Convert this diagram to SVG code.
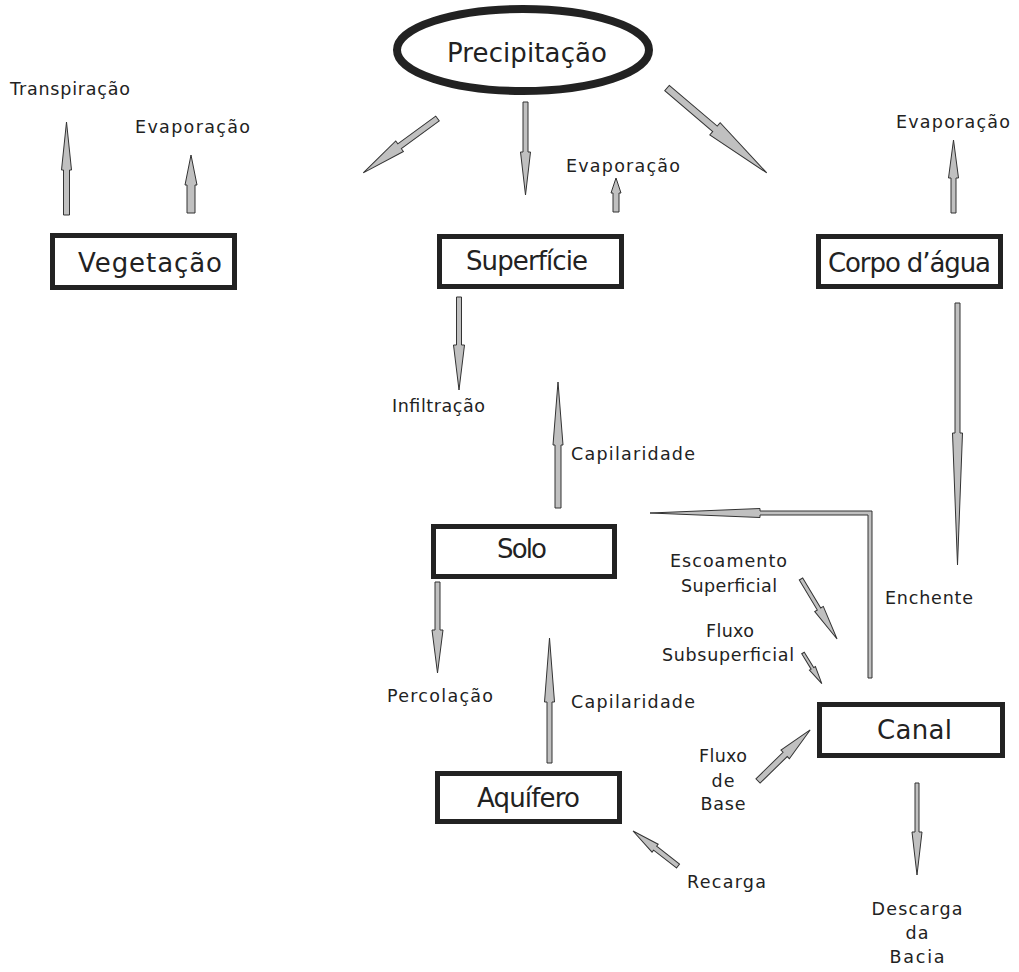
<svg xmlns="http://www.w3.org/2000/svg" width="1019" height="972" viewBox="0 0 1019 972">
<style>
.box{fill:#fff;stroke:#222;stroke-width:5}
.ell{fill:#fff;stroke:#222;stroke-width:8}
.arr{fill:#c0c0c0;stroke:#333;stroke-width:1;stroke-linejoin:miter}
text{font-family:"DejaVu Sans","Liberation Sans",Arial,sans-serif;fill:#222;text-anchor:middle}
.big{font-size:26px}
.sm{font-size:17.5px}
</style>
<rect width="1019" height="972" fill="#fff"/>
<g id="precipitacao"><ellipse class="ell" cx="523" cy="50" rx="126" ry="41"/><text class="big" x="527" y="62" textLength="160">Precipitação</text></g>
<g id="vegetacao"><rect class="box" x="52.5" y="235.5" width="182" height="52"/><text class="big" x="150" y="272" textLength="144">Vegetação</text></g>
<g id="superficie"><rect class="box" x="439.5" y="236.5" width="182" height="50"/><text class="big" x="527" y="270" textLength="122">Superfície</text></g>
<g id="corpo"><rect class="box" x="818.5" y="236.5" width="182" height="50"/><text class="big" x="909.5" y="272" textLength="163">Corpo d’água</text></g>
<g id="solo"><rect class="box" x="433.5" y="526.5" width="181" height="50"/><text class="big" x="522" y="558" textLength="50">Solo</text></g>
<g id="aquifero"><rect class="box" x="437.5" y="773.5" width="182" height="48"/><text class="big" x="528.5" y="807" textLength="103">Aquífero</text></g>
<g id="canal"><rect class="box" x="819.5" y="704.5" width="183" height="51"/><text class="big" x="914.5" y="739" textLength="75">Canal</text></g>
<g id="labels">
<text class="sm" x="70" y="95" textLength="120">Transpiração</text>
<text class="sm" x="192.5" y="133" textLength="115">Evaporação</text>
<text class="sm" x="623" y="172" textLength="114">Evaporação</text>
<text class="sm" x="953" y="128" textLength="114">Evaporação</text>
<text class="sm" x="438.5" y="412" textLength="93">Infiltração</text>
<text class="sm" x="633" y="460" textLength="124">Capilaridade</text>
<text class="sm" x="728.5" y="567" textLength="117">Escoamento</text>
<text class="sm" x="729" y="592" textLength="96">Superficial</text>
<text class="sm" x="730" y="637" textLength="48">Fluxo</text>
<text class="sm" x="728" y="661" textLength="132">Subsuperficial</text>
<text class="sm" x="929" y="604" textLength="88">Enchente</text>
<text class="sm" x="440" y="702" textLength="106">Percolação</text>
<text class="sm" x="633" y="708" textLength="124">Capilaridade</text>
<text class="sm" x="723" y="762" textLength="48">Fluxo</text>
<text class="sm" x="723" y="787" textLength="23">de</text>
<text class="sm" x="723" y="810" textLength="45">Base</text>
<text class="sm" x="726.5" y="888" textLength="79">Recarga</text>
<text class="sm" x="917" y="915" textLength="91">Descarga</text>
<text class="sm" x="917" y="939" textLength="23">da</text>
<text class="sm" x="917" y="963" textLength="55">Bacia</text>
</g>
<g id="connectors">
<polygon class="arr" points="63.5,215 63.5,170 61.5,170 66.5,122 71.5,170 69.5,170 69.5,215"/>
<polygon class="arr" points="187,213 187,185 185,185 191,155 197,185 195,185 195,213"/>
<polygon class="arr" points="523,102 528,102 528,152 530.5,152 525.5,195 520.5,152 523,152"/>
<polygon class="arr" points="613,212 613,193 611,193 616,178 621,193 619,193 619,212"/>
<polygon class="arr" points="951,213 951,178 948.5,178 953.5,140 958.5,178 956,178 956,213"/>
<polygon class="arr" points="456.5,297 461.5,297 461.5,345 464.5,345 459,390 453.5,345 456.5,345"/>
<polygon class="arr" points="555,508 555,445 553,445 558,382 563,445 561,445 561,508"/>
<polygon class="arr" points="955,303 960,303 960,433 962.5,433 957.5,565 952.5,433 955,433"/>
<polygon class="arr" points="435,582 440,582 440,630 443,630 437.5,673 432,630 435,630"/>
<polygon class="arr" points="547,763 547,702 544.5,702 549.5,638 554.5,702 552,702 552,763"/>
<polygon class="arr" points="915,783 919,783 919,832 922,832 917,875 912,832 915,832"/>
<polygon class="arr" points="868,678 872,678 872,511 760,511 760,508.5 650,513 760,517.5 760,515 868,515"/>
<polygon class="arr" transform="translate(437.5,118.5) rotate(143.8)" points="0,-3 47,-3 47,-6.5 92,0 47,6.5 47,3 0,3"/>
<polygon class="arr" transform="translate(667,88) rotate(40.4)" points="0,-3.5 63,-3.5 63,-8 131,0 63,8 63,3.5 0,3.5"/>
<polygon class="arr" transform="translate(801,579) rotate(59)" points="0,-2 35,-2 35,-5 70,0 35,5 35,2 0,2"/>
<polygon class="arr" transform="translate(803,653) rotate(58.5)" points="0,-1.5 18,-1.5 18,-3.5 36,0 18,3.5 18,1.5 0,1.5"/>
<polygon class="arr" transform="translate(758,781) rotate(-44.4)" points="0,-3 38,-3 38,-6 73,0 38,6 38,3 0,3"/>
<polygon class="arr" transform="translate(678,866) rotate(-142.1)" points="0,-2.5 29,-2.5 29,-5 57,0 29,5 29,2.5 0,2.5"/>
</g>
</svg>
